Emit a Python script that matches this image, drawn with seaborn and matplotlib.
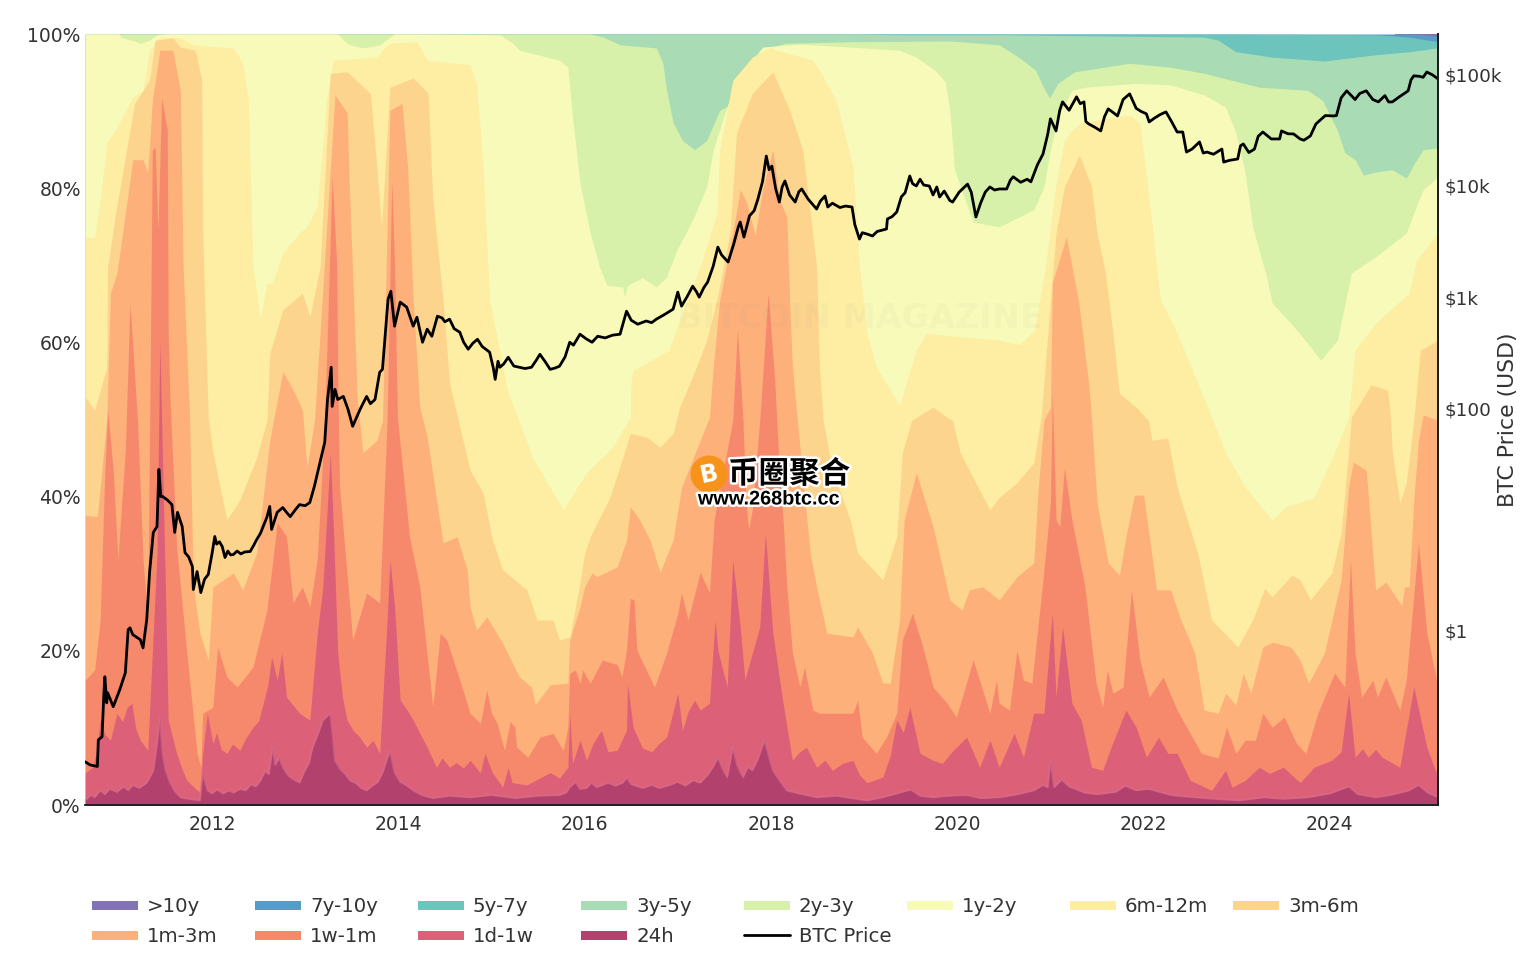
import pandas as pd
import matplotlib
matplotlib.use('Agg')
import matplotlib.pyplot as plt
import seaborn as sns
from matplotlib.lines import Line2D
from matplotlib.patches import Circle, Rectangle
from matplotlib.transforms import IdentityTransform
import matplotlib.patheffects as pe

# upper edge of every band, (year, % of supply)
over_10y = [(2024.7,100),(2025.16,100)]
y7_10 = [(2010.64,100),(2024.85,100),(2025.0,99.9),(2025.16,99.7)]
y5_7 = [(2010.64,100),(2023.0,100),(2024.5,99.9),(2024.85,99.6),(2025.16,99.0)]
y3_5 = [(2010.64,100),(2018.85,100),(2019.38,99.9),(2020.45,99.9),(2022.65,99.6),(2022.80,99.2),(2022.99,97.7),(2023.38,97.0),(2023.94,96.5),(2024.49,97.3),(2024.85,97.7),(2025.16,98.2)]
y2_3 = [(2010.64,100),(2016.06,100),(2016.20,99.6),(2016.38,98.6),(2016.77,98.2),(2016.84,96.2),(2016.88,92.7),(2016.95,88.5),(2017.05,86.2),(2017.18,85.0),(2017.31,86.2),(2017.45,90.1),(2017.56,90.8),(2017.67,94.7),(2017.88,97.9),(2018.15,98.8),(2018.85,99.0),(2019.92,99.1),(2020.45,98.6),(2020.67,96.9),(2020.84,95.3),(2020.93,93.0),(2020.99,91.7),(2021.08,93.6),(2021.26,95.1),(2021.85,96.2),(2022.29,95.7),(2022.65,94.9),(2023.24,93.1),(2023.76,92.7),(2023.92,91.4),(2024.08,87.5),(2024.16,84.6),(2024.27,83.7),(2024.36,81.7),(2024.49,82.1),(2024.67,82.4),(2024.82,81.3),(2024.91,83.3),(2025.00,85.0),(2025.16,85.2)]
y1_2 = [(2010.64,100),(2011.00,100),(2011.03,99.5),(2011.14,99.2),(2011.23,98.8),(2011.33,99.2),(2011.41,99.9),(2011.50,100),(2013.35,100),(2013.43,99.0),(2013.48,98.6),(2013.62,98.2),(2013.80,98.6),(2013.91,99.6),(2013.96,100),(2015.09,99.9),(2015.23,98.8),(2015.30,97.9),(2015.73,96.6),(2015.82,95.7),(2015.87,89.2),(2015.95,80.7),(2016.06,74.2),(2016.16,69.8),(2016.24,67.4),(2016.41,67.2),(2016.43,65.9),(2016.46,67.4),(2016.62,68.4),(2016.77,67.2),(2016.88,68.5),(2016.99,72.0),(2017.16,75.9),(2017.31,80.2),(2017.38,85.0),(2017.48,88.8),(2017.59,92.7),(2017.67,94.0),(2017.91,98.3),(2018.31,98.7),(2018.85,98.3),(2019.38,97.9),(2019.56,97.0),(2019.76,95.3),(2019.87,93.8),(2019.92,90.1),(2019.97,82.4),(2020.17,75.6),(2020.45,75.0),(2020.82,77.2),(2020.93,80.2),(2021.00,85.0),(2021.08,89.2),(2021.23,92.7),(2021.37,93.1),(2021.92,93.6),(2022.29,93.4),(2022.65,92.1),(2022.88,90.5),(2022.99,87.2),(2023.09,82.0),(2023.17,75.0),(2023.32,68.5),(2023.38,65.1),(2023.58,62.5),(2023.76,59.9),(2023.90,57.7),(2024.08,60.3),(2024.23,69.0),(2024.49,71.1),(2024.82,74.2),(2024.90,76.8),(2025.00,79.8),(2025.16,81.5)]
m6_12 = [(2010.64,73.5),(2010.74,73.7),(2010.80,78.5),(2010.87,85.9),(2010.98,87.9),(2011.15,91.8),(2011.26,92.7),(2011.33,97.9),(2011.44,99.6),(2011.66,99.5),(2011.80,98.6),(2012.23,98.2),(2012.33,96.2),(2012.39,91.4),(2012.41,82.7),(2012.44,69.8),(2012.52,62.9),(2012.59,67.7),(2012.65,67.7),(2012.76,71.6),(2012.94,74.2),(2013.02,75.0),(2013.13,77.6),(2013.23,91.4),(2013.30,96.6),(2013.77,97.0),(2013.83,97.9),(2013.91,98.8),(2014.20,99.0),(2014.31,96.6),(2014.77,96.0),(2014.84,93.6),(2014.91,82.7),(2014.98,65.5),(2015.17,53.8),(2015.44,45.1),(2015.77,38.3),(2016.02,43.1),(2016.30,46.4),(2016.49,50.3),(2016.50,55.1),(2016.52,56.4),(2016.91,59.0),(2016.99,62.0),(2017.24,69.8),(2017.42,76.8),(2017.45,85.0),(2017.59,94.0),(2017.80,97.0),(2017.99,98.3),(2018.06,97.9),(2018.45,96.6),(2018.52,95.3),(2018.70,91.4),(2018.88,82.7),(2018.95,69.8),(2019.03,61.2),(2019.13,56.8),(2019.38,51.9),(2019.56,59.0),(2019.67,61.2),(2020.06,60.7),(2020.45,60.3),(2020.67,59.7),(2020.83,61.6),(2020.94,69.4),(2021.05,79.8),(2021.15,86.2),(2021.23,87.5),(2021.33,88.5),(2021.85,89.5),(2021.96,88.5),(2022.06,78.5),(2022.18,65.5),(2022.36,61.2),(2022.73,50.3),(2022.88,45.7),(2023.09,41.2),(2023.38,37.0),(2023.53,38.7),(2023.83,39.9),(2024.05,45.7),(2024.20,50.3),(2024.27,59.0),(2024.49,62.5),(2024.85,66.4),(2024.93,70.7),(2025.16,74.2)]
m3_6 = [(2010.64,52.9),(2010.74,51.2),(2010.87,56.8),(2010.88,69.8),(2010.96,76.3),(2011.10,86.2),(2011.17,91.0),(2011.33,94.0),(2011.39,99.2),(2011.58,99.5),(2011.66,98.3),(2011.82,97.9),(2011.89,94.0),(2011.90,74.2),(2011.96,50.3),(2012.01,45.7),(2012.16,37.0),(2012.30,39.6),(2012.48,45.1),(2012.59,49.9),(2012.62,58.6),(2012.76,64.2),(2012.97,66.4),(2013.05,63.3),(2013.16,69.8),(2013.27,94.9),(2013.45,95.1),(2013.70,92.3),(2013.77,82.7),(2013.82,75.0),(2013.91,93.1),(2014.16,94.3),(2014.32,92.3),(2014.37,78.5),(2014.48,65.5),(2014.55,54.7),(2014.77,43.4),(2014.91,40.5),(2015.01,34.4),(2015.12,30.5),(2015.38,27.9),(2015.49,24.0),(2015.66,24.0),(2015.73,21.4),(2015.84,21.8),(2015.95,28.8),(2016.00,32.7),(2016.06,34.8),(2016.27,39.9),(2016.40,44.7),(2016.49,48.2),(2016.67,47.7),(2016.81,46.4),(2016.95,48.2),(2017.02,51.6),(2017.20,56.8),(2017.31,60.3),(2017.42,65.5),(2017.56,74.2),(2017.63,87.2),(2017.80,92.3),(2018.02,95.1),(2018.20,90.1),(2018.34,85.0),(2018.49,69.8),(2018.52,56.8),(2018.56,49.9),(2018.66,43.4),(2018.85,37.0),(2018.93,32.7),(2019.20,29.2),(2019.35,34.8),(2019.41,45.7),(2019.51,49.9),(2019.74,51.6),(2019.89,50.3),(2019.95,49.9),(2020.03,45.7),(2020.35,38.3),(2020.45,39.9),(2020.64,41.8),(2020.82,44.4),(2020.90,50.3),(2021.00,65.5),(2021.06,74.2),(2021.15,80.2),(2021.31,84.3),(2021.44,80.2),(2021.50,74.2),(2021.59,69.0),(2021.67,61.2),(2021.74,53.4),(2021.92,51.6),(2022.05,49.9),(2022.09,47.3),(2022.26,47.6),(2022.36,41.2),(2022.58,32.7),(2022.73,24.0),(2023.01,20.5),(2023.17,24.0),(2023.30,28.1),(2023.38,27.0),(2023.59,29.8),(2023.68,29.2),(2023.79,26.6),(2024.02,30.1),(2024.12,35.3),(2024.20,45.7),(2024.23,50.3),(2024.44,54.5),(2024.62,53.8),(2024.65,50.3),(2024.67,45.7),(2024.75,39.2),(2024.82,41.8),(2024.90,49.9),(2024.97,59.0),(2025.16,60.3)]
m1_3 = [(2010.64,37.6),(2010.77,37.4),(2010.87,49.9),(2010.91,66.4),(2010.98,69.0),(2011.15,83.7),(2011.26,83.7),(2011.31,82.0),(2011.36,91.4),(2011.44,97.9),(2011.58,97.9),(2011.66,92.7),(2011.69,69.8),(2011.76,50.3),(2011.80,28.3),(2011.87,22.3),(2011.96,18.8),(2012.01,28.3),(2012.23,30.1),(2012.33,27.9),(2012.48,32.7),(2012.62,47.3),(2012.76,56.2),(2012.89,53.4),(2012.97,51.2),(2013.02,43.8),(2013.10,49.9),(2013.16,61.2),(2013.32,92.1),(2013.45,89.8),(2013.48,78.5),(2013.56,52.5),(2013.62,45.7),(2013.77,47.3),(2013.83,49.9),(2013.91,90.1),(2014.04,91.0),(2014.10,82.7),(2014.16,65.5),(2014.23,51.6),(2014.31,47.7),(2014.48,34.0),(2014.63,34.8),(2014.74,30.5),(2014.77,25.7),(2014.84,22.7),(2014.95,24.4),(2015.12,21.0),(2015.30,16.6),(2015.43,15.3),(2015.47,13.0),(2015.63,15.6),(2015.82,15.8),(2015.84,21.4),(2015.95,25.7),(2016.00,28.3),(2016.08,30.1),(2016.13,29.6),(2016.35,30.9),(2016.45,34.4),(2016.49,38.7),(2016.59,37.0),(2016.70,34.4),(2016.81,30.2),(2016.95,34.4),(2017.04,41.2),(2017.24,47.3),(2017.34,50.3),(2017.38,56.8),(2017.45,65.5),(2017.59,74.2),(2017.67,79.8),(2017.74,78.1),(2017.83,73.9),(2017.91,79.8),(2018.02,85.0),(2018.09,78.5),(2018.17,76.3),(2018.20,65.5),(2018.23,56.8),(2018.28,50.3),(2018.42,32.7),(2018.49,28.3),(2018.60,22.3),(2018.88,21.8),(2018.93,23.1),(2019.09,19.7),(2019.20,15.8),(2019.28,15.8),(2019.38,24.0),(2019.43,37.0),(2019.56,43.1),(2019.74,36.1),(2019.92,26.6),(2020.05,25.3),(2020.13,27.9),(2020.27,28.3),(2020.45,26.6),(2020.64,29.6),(2020.82,31.4),(2020.87,41.2),(2020.93,49.9),(2021.00,51.6),(2021.02,67.7),(2021.17,73.7),(2021.30,65.5),(2021.41,54.7),(2021.44,50.3),(2021.50,39.2),(2021.62,31.4),(2021.74,29.8),(2021.81,34.8),(2021.90,40.2),(2022.00,40.2),(2022.14,27.9),(2022.29,27.9),(2022.40,24.0),(2022.55,19.7),(2022.65,12.3),(2022.80,11.9),(2022.88,14.5),(2022.99,13.0),(2023.07,17.1),(2023.15,14.5),(2023.28,20.5),(2023.38,21.1),(2023.58,20.5),(2023.68,18.8),(2023.77,15.8),(2023.94,19.7),(2024.12,29.2),(2024.20,41.2),(2024.25,44.5),(2024.39,43.4),(2024.49,27.9),(2024.60,28.9),(2024.77,25.9),(2024.80,28.3),(2024.85,28.3),(2024.90,39.6),(2024.95,47.3),(2025.00,50.6),(2025.16,49.9)]
w1_m1 = [(2010.64,16.2),(2010.74,17.5),(2010.80,24.0),(2010.85,43.4),(2010.88,51.2),(2010.94,43.4),(2010.99,31.8),(2011.07,46.0),(2011.12,65.1),(2011.20,49.9),(2011.26,31.8),(2011.31,24.0),(2011.36,85.0),(2011.39,85.3),(2011.42,74.6),(2011.46,91.7),(2011.52,87.5),(2011.53,61.2),(2011.55,52.5),(2011.62,33.5),(2011.73,19.7),(2011.84,6.7),(2011.88,4.9),(2011.90,11.9),(2012.01,12.7),(2012.06,20.5),(2012.16,16.6),(2012.27,15.3),(2012.44,17.9),(2012.59,25.3),(2012.70,36.6),(2012.80,34.8),(2012.87,26.2),(2012.97,28.3),(2013.05,25.7),(2013.13,31.8),(2013.21,49.9),(2013.29,81.5),(2013.34,69.8),(2013.35,54.7),(2013.37,41.2),(2013.51,21.4),(2013.66,27.5),(2013.80,26.2),(2013.88,49.9),(2013.93,81.1),(2013.96,69.8),(2013.99,50.3),(2014.12,34.8),(2014.23,28.3),(2014.37,12.7),(2014.45,22.3),(2014.52,21.4),(2014.66,16.2),(2014.77,11.9),(2014.88,10.6),(2014.95,14.9),(2015.00,11.9),(2015.06,10.6),(2015.14,7.1),(2015.20,10.8),(2015.25,10.1),(2015.27,7.5),(2015.39,6.2),(2015.52,8.8),(2015.66,9.3),(2015.77,7.1),(2015.82,10.1),(2015.84,17.1),(2015.90,17.5),(2015.95,15.8),(2015.98,17.5),(2016.06,15.8),(2016.19,18.8),(2016.35,18.2),(2016.40,16.6),(2016.45,20.1),(2016.49,26.8),(2016.53,26.6),(2016.56,20.1),(2016.75,15.3),(2016.88,19.7),(2017.00,24.9),(2017.04,27.5),(2017.11,24.0),(2017.24,30.2),(2017.34,27.5),(2017.39,37.0),(2017.47,42.2),(2017.59,49.9),(2017.64,61.6),(2017.70,49.9),(2017.73,39.6),(2017.76,35.7),(2017.80,38.3),(2017.88,49.9),(2017.97,66.4),(2018.04,55.1),(2018.09,43.4),(2018.13,37.0),(2018.17,28.3),(2018.23,19.7),(2018.31,15.3),(2018.36,17.9),(2018.45,12.3),(2018.52,11.9),(2018.88,11.9),(2018.93,13.6),(2018.98,8.8),(2019.13,6.7),(2019.24,8.8),(2019.35,11.9),(2019.41,21.4),(2019.52,24.9),(2019.63,20.5),(2019.74,15.3),(2019.89,13.2),(2019.99,11.4),(2020.17,18.8),(2020.35,11.9),(2020.42,16.2),(2020.45,13.2),(2020.56,12.3),(2020.64,20.1),(2020.71,16.2),(2020.80,15.8),(2020.92,29.2),(2021.00,39.2),(2021.02,53.4),(2021.06,37.0),(2021.10,36.1),(2021.15,43.8),(2021.23,37.0),(2021.37,28.3),(2021.49,15.8),(2021.56,12.7),(2021.61,17.5),(2021.67,14.5),(2021.78,15.3),(2021.87,27.9),(2021.96,18.8),(2022.06,14.0),(2022.21,16.6),(2022.36,12.3),(2022.62,6.7),(2022.80,6.1),(2022.89,10.1),(2022.99,6.7),(2023.09,8.4),(2023.20,8.4),(2023.28,11.9),(2023.38,10.1),(2023.51,11.4),(2023.64,8.0),(2023.74,6.7),(2023.87,11.9),(2024.05,17.1),(2024.16,15.3),(2024.22,31.8),(2024.27,19.7),(2024.34,14.0),(2024.46,16.2),(2024.51,14.0),(2024.60,16.6),(2024.75,12.3),(2024.82,16.2),(2024.95,34.0),(2025.04,22.3),(2025.16,15.3)]
d1_w1 = [(2010.64,4.2),(2010.72,4.9),(2010.76,7.0),(2010.80,11.0),(2010.85,9.2),(2010.91,8.4),(2010.95,10.4),(2010.98,11.9),(2011.04,10.8),(2011.09,12.7),(2011.14,13.2),(2011.18,10.0),(2011.23,8.4),(2011.31,7.1),(2011.36,19.7),(2011.41,32.7),(2011.44,60.3),(2011.50,28.3),(2011.53,11.0),(2011.58,8.6),(2011.62,6.7),(2011.68,4.6),(2011.73,3.2),(2011.87,1.6),(2011.90,6.7),(2011.95,11.9),(2012.01,8.0),(2012.05,9.4),(2012.10,7.2),(2012.16,6.7),(2012.22,7.9),(2012.30,7.1),(2012.36,8.6),(2012.44,10.1),(2012.50,10.9),(2012.55,13.2),(2012.60,15.6),(2012.64,19.2),(2012.70,16.2),(2012.75,19.7),(2012.80,14.0),(2012.86,13.1),(2012.94,11.9),(2013.05,11.0),(2013.13,22.3),(2013.19,28.3),(2013.27,45.7),(2013.30,37.0),(2013.35,19.7),(2013.40,14.0),(2013.45,11.0),(2013.52,9.6),(2013.58,8.9),(2013.66,7.5),(2013.73,8.4),(2013.80,6.7),(2013.88,24.0),(2013.91,31.8),(2013.96,25.7),(2014.02,13.6),(2014.09,12.4),(2014.16,11.0),(2014.24,9.1),(2014.31,7.5),(2014.41,4.9),(2014.47,6.1),(2014.55,4.9),(2014.62,5.5),(2014.70,4.8),(2014.77,5.8),(2014.88,4.2),(2014.93,6.7),(2015.01,4.2),(2015.12,2.3),(2015.18,4.9),(2015.22,2.9),(2015.38,2.6),(2015.52,3.5),(2015.63,4.2),(2015.73,3.5),(2015.82,4.9),(2015.84,11.9),(2015.87,5.4),(2015.95,8.4),(2016.02,5.8),(2016.09,8.0),(2016.18,9.7),(2016.25,6.9),(2016.35,7.1),(2016.45,9.7),(2016.46,15.8),(2016.52,10.1),(2016.62,7.4),(2016.72,6.9),(2016.80,8.0),(2016.88,8.8),(2017.00,14.5),(2017.05,9.7),(2017.11,12.1),(2017.18,13.6),(2017.24,12.3),(2017.34,13.2),(2017.40,24.0),(2017.43,20.1),(2017.53,15.3),(2017.59,31.8),(2017.67,23.1),(2017.72,16.2),(2017.80,19.7),(2017.88,23.1),(2017.94,35.3),(2018.02,22.3),(2018.13,13.2),(2018.23,5.8),(2018.30,6.8),(2018.38,7.5),(2018.49,4.9),(2018.58,5.8),(2018.66,4.5),(2018.77,5.4),(2018.88,5.8),(2018.95,3.9),(2019.03,2.9),(2019.20,3.6),(2019.28,6.4),(2019.35,11.0),(2019.42,9.4),(2019.49,12.7),(2019.60,6.7),(2019.74,5.8),(2019.84,5.4),(2019.95,7.0),(2020.10,8.8),(2020.24,4.9),(2020.35,8.4),(2020.45,4.9),(2020.61,9.3),(2020.71,6.2),(2020.82,11.9),(2020.93,11.9),(2021.02,24.9),(2021.06,14.0),(2021.13,23.1),(2021.23,13.2),(2021.33,11.0),(2021.44,4.9),(2021.56,4.5),(2021.66,7.8),(2021.81,12.3),(2021.92,10.1),(2022.03,6.2),(2022.16,8.8),(2022.26,6.7),(2022.36,6.7),(2022.50,3.2),(2022.73,1.9),(2022.88,4.5),(2022.95,2.3),(2023.09,3.2),(2023.24,4.9),(2023.35,4.1),(2023.50,4.9),(2023.68,2.9),(2023.83,4.9),(2024.02,5.8),(2024.12,6.9),(2024.20,14.5),(2024.27,6.2),(2024.35,7.3),(2024.41,6.2),(2024.49,7.2),(2024.56,6.2),(2024.75,4.9),(2024.90,15.3),(2025.04,7.5),(2025.16,3.6)]
h24 = [(2010.64,0.6),(2010.70,1.3),(2010.74,1.0),(2010.80,1.9),(2010.85,1.4),(2010.90,2.1),(2010.98,1.7),(2011.05,2.4),(2011.10,1.9),(2011.15,2.6),(2011.22,2.2),(2011.30,2.9),(2011.37,4.5),(2011.41,8.0),(2011.44,11.4),(2011.47,6.7),(2011.50,4.6),(2011.55,2.9),(2011.60,1.8),(2011.66,1.0),(2011.75,0.8),(2011.87,0.6),(2011.90,4.2),(2011.95,1.9),(2012.00,1.5),(2012.05,2.0),(2012.12,1.5),(2012.18,1.9),(2012.23,1.6),(2012.30,2.1),(2012.36,1.9),(2012.42,2.7),(2012.47,2.4),(2012.52,3.2),(2012.57,4.4),(2012.61,4.0),(2012.65,7.5),(2012.68,5.2),(2012.72,6.2),(2012.76,4.9),(2012.82,3.8),(2012.88,3.3),(2012.94,2.9),(2013.00,4.6),(2013.04,5.4),(2013.08,7.5),(2013.13,9.0),(2013.19,11.0),(2013.27,11.9),(2013.30,8.5),(2013.32,5.8),(2013.38,4.6),(2013.43,4.0),(2013.48,3.2),(2013.55,2.8),(2013.60,2.2),(2013.66,1.9),(2013.72,2.5),(2013.78,3.0),(2013.83,4.2),(2013.91,7.1),(2013.96,4.2),(2014.02,3.0),(2014.08,2.6),(2014.16,1.9),(2014.25,1.3),(2014.37,0.9),(2014.55,1.2),(2014.77,1.0),(2015.00,1.3),(2015.25,0.9),(2015.50,1.2),(2015.73,1.3),(2015.80,1.6),(2015.84,2.3),(2015.90,3.0),(2015.95,2.1),(2016.02,2.2),(2016.07,2.9),(2016.13,2.3),(2016.19,2.6),(2016.25,2.9),(2016.33,2.5),(2016.41,2.9),(2016.45,3.6),(2016.50,2.7),(2016.62,2.2),(2016.72,2.6),(2016.80,2.2),(2016.91,2.6),(2017.00,3.0),(2017.08,2.5),(2017.16,3.2),(2017.24,2.9),(2017.32,3.9),(2017.38,5.0),(2017.43,6.2),(2017.48,4.7),(2017.53,3.6),(2017.59,7.5),(2017.64,5.1),(2017.70,3.6),(2017.75,4.9),(2017.80,4.5),(2017.86,6.0),(2017.93,8.4),(2018.02,4.5),(2018.08,3.4),(2018.17,1.9),(2018.30,1.5),(2018.49,1.0),(2018.70,1.2),(2019.03,0.6),(2019.20,1.0),(2019.38,1.6),(2019.50,2.0),(2019.60,1.2),(2019.74,1.0),(2019.90,1.2),(2020.10,1.3),(2020.25,0.9),(2020.45,1.0),(2020.65,1.4),(2020.82,1.9),(2020.92,2.6),(2020.97,2.3),(2021.00,5.8),(2021.04,2.3),(2021.12,3.3),(2021.20,2.4),(2021.37,1.6),(2021.50,1.4),(2021.70,1.7),(2021.80,2.5),(2021.92,1.9),(2022.05,2.1),(2022.20,1.6),(2022.29,1.3),(2022.45,1.1),(2022.65,0.9),(2023.02,0.6),(2023.30,1.0),(2023.50,0.8),(2023.76,1.0),(2024.00,1.5),(2024.20,2.4),(2024.30,1.4),(2024.49,1.0),(2024.65,1.3),(2024.85,1.9),(2024.95,2.6),(2025.05,1.6),(2025.16,1.0)]

# BTC price, (year, USD)
btc_price = [(2010.64,0.066),(2010.69,0.062),(2010.77,0.06),(2010.78,0.104),(2010.82,0.111),(2010.84,0.276),(2010.85,0.385),(2010.87,0.224),(2010.88,0.276),(2010.94,0.207),(2011.01,0.294),(2011.07,0.418),(2011.10,1.02),(2011.12,1.06),(2011.15,0.92),(2011.23,0.83),(2011.26,0.70),(2011.30,1.26),(2011.33,3.33),(2011.37,7.64),(2011.41,8.65),(2011.43,28.2),(2011.45,16.1),(2011.47,16.1),(2011.52,15.0),(2011.57,13.6),(2011.60,7.64),(2011.63,11.6),(2011.68,8.65),(2011.71,5.04),(2011.75,4.6),(2011.79,3.77),(2011.80,2.34),(2011.84,3.4),(2011.88,2.2),(2011.92,2.9),(2011.96,3.2),(2012.00,4.9),(2012.03,7.03),(2012.05,6.0),(2012.08,6.3),(2012.11,5.71),(2012.14,4.55),(2012.17,5.2),(2012.20,4.8),(2012.23,4.84),(2012.27,5.2),(2012.31,4.9),(2012.35,5.1),(2012.41,5.15),(2012.45,5.9),(2012.48,6.6),(2012.52,7.5),(2012.55,8.65),(2012.59,10.5),(2012.62,13.1),(2012.64,8.13),(2012.70,11.6),(2012.76,12.8),(2012.80,11.6),(2012.84,10.6),(2012.90,12.4),(2012.94,13.6),(2013.00,13.3),(2013.05,14.2),(2013.10,20.0),(2013.16,32.6),(2013.21,49.4),(2013.24,120),(2013.28,234),(2013.29,104),(2013.32,148),(2013.35,120),(2013.41,128),(2013.46,98),(2013.51,68.9),(2013.59,98),(2013.66,128),(2013.70,110),(2013.75,120),(2013.80,211),(2013.83,224),(2013.89,959),(2013.92,1130),(2013.96,548),(2014.02,902),(2014.09,813),(2014.16,548),(2014.20,660),(2014.26,393),(2014.31,515),(2014.36,445),(2014.42,674),(2014.47,650),(2014.50,600),(2014.55,634),(2014.60,520),(2014.66,484),(2014.70,395),(2014.75,340),(2014.80,385),(2014.85,418),(2014.90,360),(2014.98,320),(2015.02,230),(2015.04,182),(2015.07,265),(2015.09,234),(2015.13,250),(2015.18,288),(2015.24,240),(2015.30,234),(2015.36,228),(2015.43,234),(2015.48,270),(2015.52,306),(2015.58,260),(2015.63,224),(2015.68,230),(2015.73,239),(2015.79,290),(2015.84,393),(2015.88,370),(2015.95,464),(2016.02,420),(2016.08,393),(2016.14,445),(2016.22,430),(2016.30,455),(2016.38,464),(2016.42,610),(2016.45,748),(2016.50,620),(2016.57,571),(2016.66,610),(2016.72,590),(2016.77,634),(2016.86,700),(2016.95,780),(2016.98,960),(2017.00,1110),(2017.04,830),(2017.10,1010),(2017.16,1256),(2017.20,1120),(2017.23,1000),(2017.28,1220),(2017.32,1365),(2017.38,1900),(2017.43,2820),(2017.47,2400),(2017.54,2070),(2017.60,3000),(2017.65,4300),(2017.67,4740),(2017.71,3470),(2017.77,5400),(2017.82,6000),(2017.86,7640),(2017.91,11000),(2017.95,18600),(2017.98,14000),(2018.01,15100),(2018.05,9500),(2018.09,7170),(2018.12,9800),(2018.15,11100),(2018.20,8300),(2018.26,7170),(2018.30,8900),(2018.33,9400),(2018.40,7600),(2018.49,6210),(2018.53,7300),(2018.58,8130),(2018.61,6470),(2018.66,7000),(2018.74,6400),(2018.80,6600),(2018.87,6470),(2018.90,4500),(2018.95,3330),(2018.98,3800),(2019.03,3700),(2019.09,3550),(2019.14,3900),(2019.24,4100),(2019.25,5050),(2019.30,5300),(2019.35,5830),(2019.40,8000),(2019.44,8700),(2019.49,12300),(2019.52,10500),(2019.56,10000),(2019.60,11500),(2019.64,10200),(2019.70,10000),(2019.74,8300),(2019.78,9800),(2019.81,7960),(2019.86,9000),(2019.92,7400),(2019.95,7170),(2020.02,8800),(2020.11,10400),(2020.15,8800),(2020.20,5260),(2020.25,7000),(2020.30,8800),(2020.35,9800),(2020.40,9200),(2020.45,9400),(2020.53,9400),(2020.57,11300),(2020.60,12100),(2020.68,10800),(2020.75,11500),(2020.79,10900),(2020.86,15500),(2020.92,19400),(2020.97,29000),(2021.00,40200),(2021.06,31300),(2021.10,48000),(2021.13,57100),(2021.20,48000),(2021.28,63400),(2021.32,55000),(2021.36,57100),(2021.38,38000),(2021.41,36200),(2021.47,34000),(2021.54,31300),(2021.58,42000),(2021.62,49400),(2021.67,46000),(2021.72,42700),(2021.78,60000),(2021.85,67400),(2021.92,50000),(2021.97,47000),(2022.03,44600),(2022.06,37700),(2022.12,41000),(2022.18,44000),(2022.24,46400),(2022.30,38000),(2022.36,30600),(2022.42,30600),(2022.46,20200),(2022.52,21500),(2022.60,24900),(2022.64,19800),(2022.68,20200),(2022.75,19300),(2022.84,21500),(2022.86,16400),(2022.92,17000),(2023.01,17500),(2023.04,23000),(2023.07,23900),(2023.13,20000),(2023.19,21500),(2023.23,28000),(2023.28,30600),(2023.37,26500),(2023.46,26500),(2023.48,31300),(2023.55,29500),(2023.61,29400),(2023.68,26500),(2023.72,25800),(2023.79,28200),(2023.85,36200),(2023.95,43000),(2024.04,42700),(2024.07,43000),(2024.12,62000),(2024.18,71800),(2024.27,60000),(2024.32,68000),(2024.39,71800),(2024.46,60000),(2024.52,57100),(2024.59,65000),(2024.63,57000),(2024.67,57100),(2024.74,63000),(2024.84,71800),(2024.87,90000),(2024.90,98000),(2024.96,97000),(2025.00,95000),(2025.04,106000),(2025.10,100000),(2025.16,92000)]

band_names = ['>10y', '7y-10y', '5y-7y', '3y-5y', '2y-3y', '1y-2y', '6m-12m', '3m-6m', '1m-3m', '1w-1m', '1d-1w', '24h']
band_tops = [over_10y, y7_10, y5_7, y3_5, y2_3, y1_2, m6_12, m3_6, m1_3, w1_m1, d1_w1, h24]
band_colors = ['#8173b5', '#5a9bc6', '#6cc4bd', '#a9dcb4', '#d7f0aa', '#f8fab9', '#fdeea3', '#fdd48e', '#fdb079', '#f6896b', '#dc6178', '#b2416d']
pct_ticks = [0, 20, 40, 60, 80, 100]
year_ticks = [2012, 2014, 2016, 2018, 2020, 2022, 2024]
price_ticks = [1, 100, 1000, 10000, 100000]
price_labels = ['$1', '$100', '$1k', '$10k', '$100k']

sns.set_theme(style='white')
plt.rcParams['font.family'] = ['DejaVu Sans', 'Noto Sans CJK SC']
text_color = '#333333'

W, H = 1536, 963
fig = plt.figure(figsize=(W / 100, H / 100), dpi=100)
ax = fig.add_axes([85 / W, (H - 805) / H, (1438 - 85) / W, (805 - 34) / H])

# bands are drawn from the top one down, each one covers the one before
for name, top, color in zip(band_names, band_tops, band_colors):
    df = pd.DataFrame(top, columns=['year', 'pct'])
    ax.fill_between(df['year'], 0, df['pct'], color=color, lw=0)

ridge = pd.DataFrame(h24, columns=['year', 'pct'])
ax.plot(ridge['year'], ridge['pct'], color='#d96c8c', lw=1.5, alpha=0.6)

ax.set_xlim(2010.637, 2025.16)
ax.set_ylim(0, 100)
ax.set_xticks(year_ticks)
ax.set_yticks(pct_ticks)
ax.set_yticklabels([f'{p}%' for p in pct_ticks])
ax.tick_params(axis='both', length=0, labelsize=13.5, labelcolor=text_color, pad=3)
ax.tick_params(axis='x', pad=7)
ax.grid(False)
for s in ['top', 'left']:
    ax.spines[s].set_visible(False)
ax.spines['bottom'].set_color('#1a1a1a')
ax.spines['bottom'].set_linewidth(1.3)

ax2 = ax.twinx()
price_df = pd.DataFrame(btc_price, columns=['year', 'price'])
sns.lineplot(data=price_df, x='year', y='price', ax=ax2, color='black', lw=2, estimator=None, sort=False, legend=False)
ax2.set_yscale('log')
ax2.set_ylim(0.027, 233000)
ax2.set_xlim(2010.637, 2025.16)
ax2.set_yticks(price_ticks)
ax2.set_yticklabels(price_labels)
ax2.minorticks_off()
ax2.tick_params(axis='y', length=0, labelsize=13.3, labelcolor=text_color, pad=5)
ax2.set_xlabel('')
ax2.set_ylabel('')
ax2.grid(False)
for s in ['top', 'left', 'bottom']:
    ax2.spines[s].set_visible(False)
ax2.spines['right'].set_color('#1a1a1a')
ax2.spines['right'].set_linewidth(1.3)
fig.text(1508 / W, (H - 420) / H, 'BTC Price (USD)', rotation=90, ha='center', va='center', fontsize=15.8, color=text_color)

# legend, 8 columns on a fixed pitch
legend_items = band_names + ['BTC Price']
for i, label in enumerate(legend_items):
    col, row = i % 8, i // 8
    x0 = 92 + 163 * col
    y0 = 905 + 30 * row
    if label == 'BTC Price':
        fig.add_artist(Line2D([x0 / W, (x0 + 46) / W], [(H - y0) / H] * 2, color='black', lw=2))
    else:
        fig.add_artist(Rectangle((x0 / W, (H - y0 - 4.5) / H), 46 / W, 9 / H, color=band_colors[i], lw=0))
    fig.text((x0 + 55) / W, (H - y0 - 1.5) / H, label, ha='left', va='center', fontsize=14.2, color=text_color)

# watermarks on the picture
fig.text(860 / W, (H - 318) / H, 'BITCOIN MAGAZINE', ha='center', va='center', fontsize=24, fontweight='bold', color='#999999', alpha=0.05)
fig.add_artist(Circle((709, H - 474), 18.5, transform=IdentityTransform(), color='#f7931a', lw=0))
fig.text(709 / W, (H - 474) / H, 'B', ha='center', va='center', fontsize=17, fontweight='bold', color='white', rotation=12)
outline = [pe.withStroke(linewidth=3.5, foreground='white')]
fig.text(789 / W, (H - 474) / H, '币圈聚合', ha='center', va='center', fontsize=22, fontweight='bold', color='black',
         family=['Noto Sans CJK SC', 'DejaVu Sans'], path_effects=outline)
fig.text(769 / W, (H - 499) / H, 'www.268btc.cc', ha='center', va='center', fontsize=14.3, fontweight='bold', color='black',
         family=['Liberation Sans', 'DejaVu Sans'], path_effects=outline)

fig.savefig('out.png', dpi=100, facecolor='white')
